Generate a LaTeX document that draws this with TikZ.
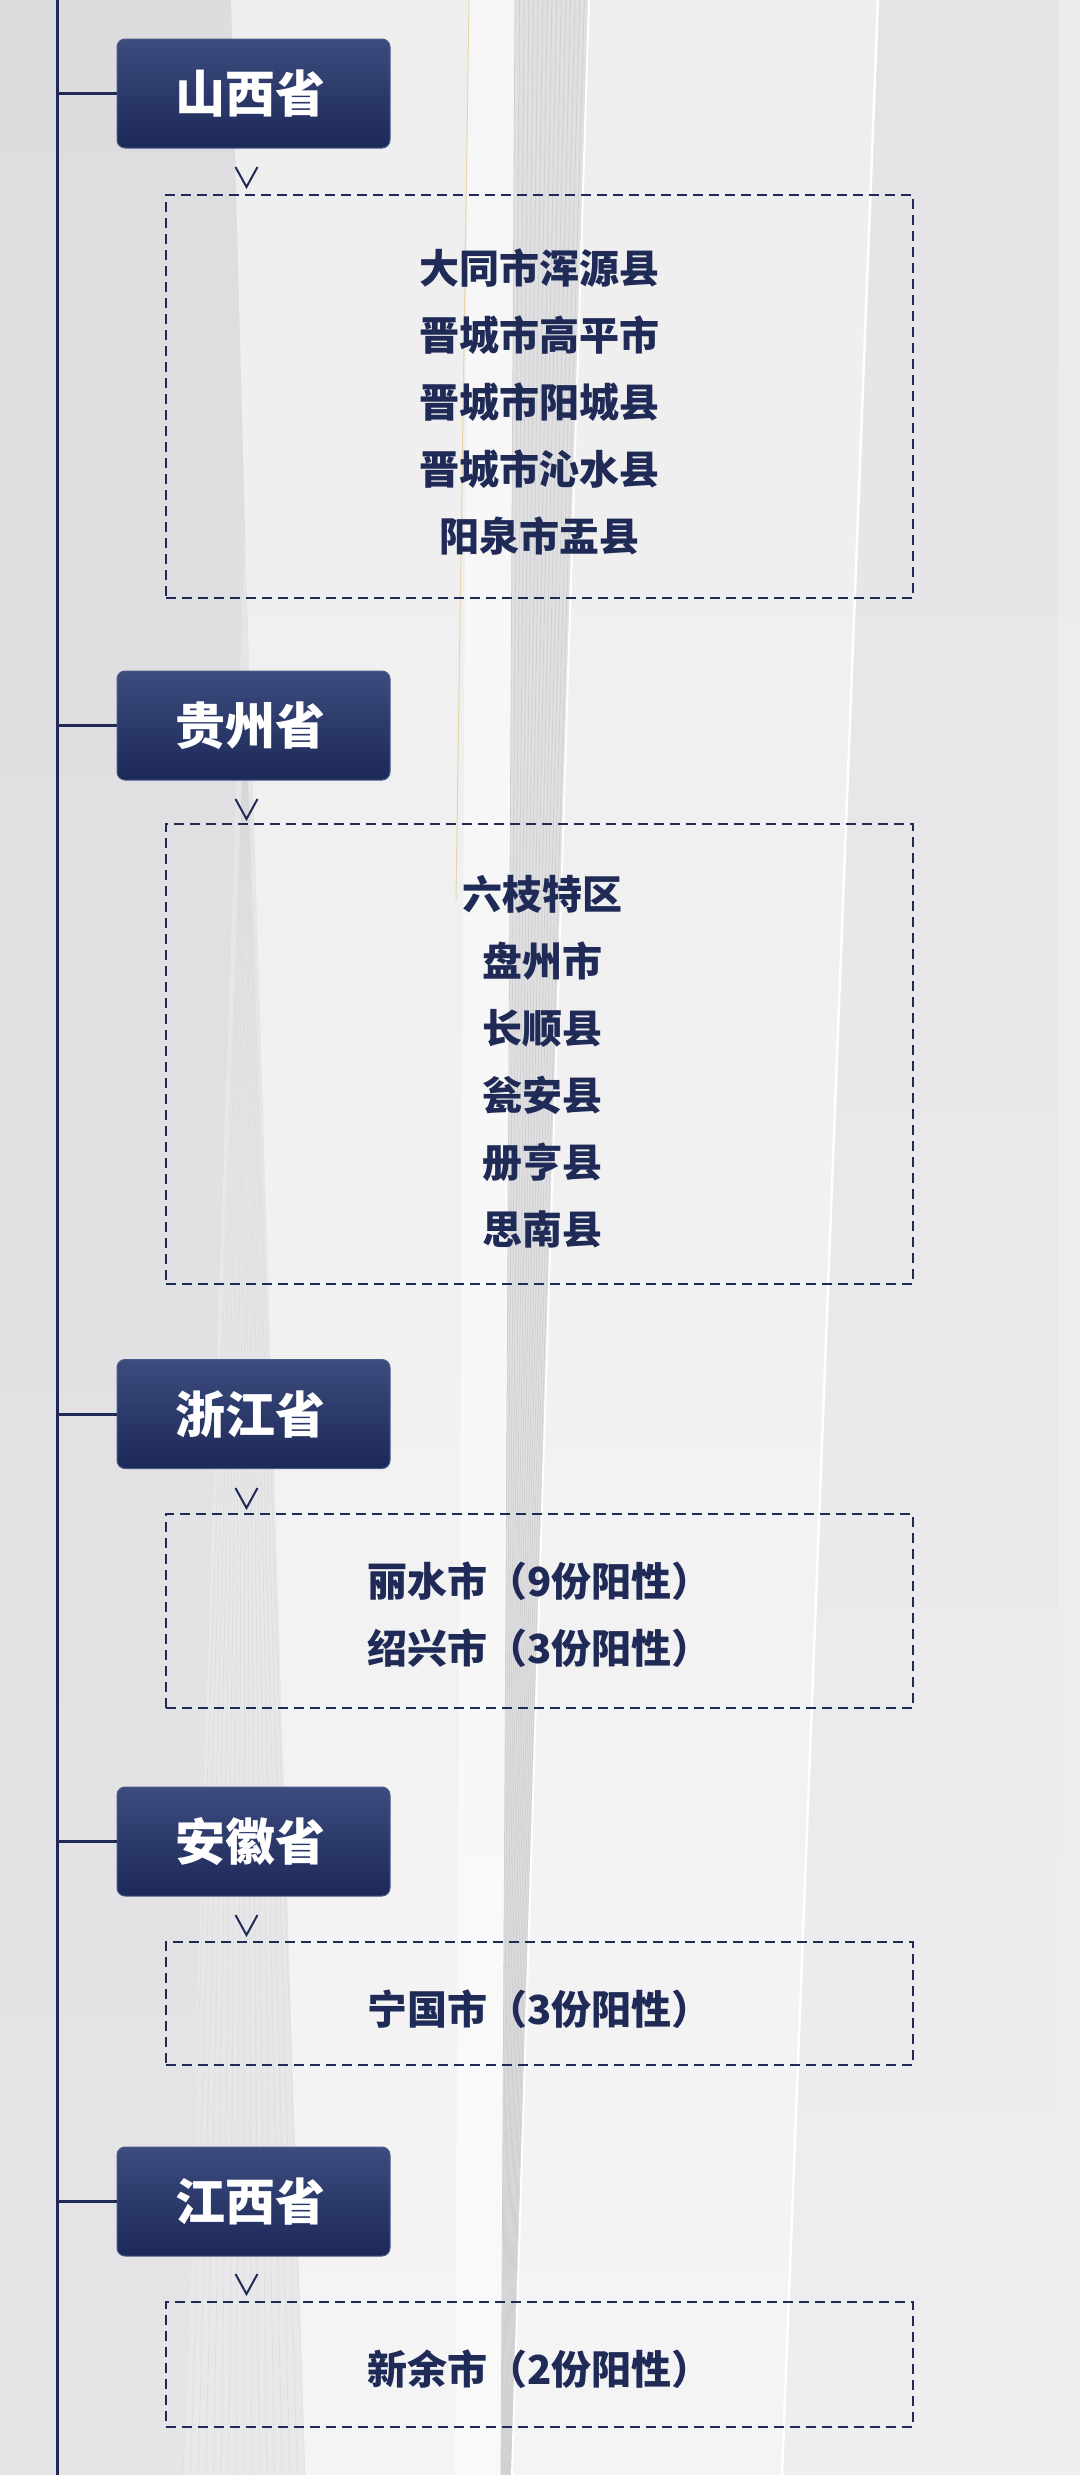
\documentclass[tikz,border=0pt]{standalone}
\usepackage{fontspec}
\newfontfamily\cjk{Noto Sans CJK SC}
\usetikzlibrary{calc}
\definecolor{navy}{HTML}{1F2A56}
\definecolor{hdrtop}{HTML}{3C4C7E}
\definecolor{hdrbot}{HTML}{1C2858}
\definecolor{hdredge}{HTML}{4A5A8A}
\definecolor{bgbase}{HTML}{ECECEE}
\definecolor{bgleft}{HTML}{DDDDDF}
\definecolor{bgleftlow}{HTML}{E5E5E7}
\definecolor{bgright}{HTML}{E4E4E6}
\definecolor{bgrightlow}{HTML}{EEEEF0}
\definecolor{bgcenter}{HTML}{EEEEEF}
\definecolor{bgcenterlow}{HTML}{F4F4F5}
\definecolor{stripefill}{HTML}{E0E0E2}
\definecolor{stripefillb}{HTML}{E8E8EA}
\definecolor{stripeline}{HTML}{D0D0D3}
\definecolor{gold}{HTML}{E6D7A6}
\begin{document}
\begin{tikzpicture}[x=0.5pt,y=-0.5pt,
  hdr/.style={rectangle, rounded corners=4pt, minimum width=136.5pt, minimum height=54.5pt,
    top color=hdrtop, bottom color=hdrbot, draw=hdredge, line width=0.5pt, text=white,
    font=\cjk\bfseries\fontsize{25pt}{28pt}\selectfont, inner sep=0pt},
  lst/.style={rectangle, draw=navy, line width=1pt, dash pattern=on 5pt off 3pt,
    minimum width=373.5pt, inner sep=0pt},
  lsttext/.style={inner sep=0pt, text=navy, align=center,
    font=\cjk\bfseries\fontsize{20pt}{33.5pt}\selectfont},
  spine/.style={draw=navy, line width=1.5pt},
  caret/.style={draw=navy, line width=1pt},
  stripe/.style={draw=stripeline, line width=0.4pt}]
\useasboundingbox (0,0) rectangle (1080,2475);
% ---------- background ----------
\fill[bgbase] (0,0) rectangle (1080,2475);
\shade[top color=bgcenter, bottom color=bgcenterlow] (231,0) -- (878,0) -- (782,2475) -- (183,2475) -- (245,530) -- cycle;
\shade[top color=bgleft, bottom color=bgleftlow] (0,0) -- (231,0) -- (245,530) -- (220,1280) -- (183,2475) -- (0,2475) -- cycle;
\shade[top color=bgright, bottom color=bgrightlow] (878,0) -- (1058,0) -- (1058,2475) -- (782,2475) -- cycle;
\shade[top color=bgbase, bottom color=bgrightlow] (1058,0) rectangle (1080,2475);
% white band and gold line
\fill[white, opacity=0.5] (468,0) -- (515,0) -- (503,2475) -- (455,2475) -- cycle;
\draw[gold, line width=0.5pt] (469,0) -- (456,900);
% central striped band
\fill[stripefill] (515,0) -- (589,0) -- (512,2475) -- (501,2475) -- cycle;
\foreach \i in {0,...,16} \draw[stripe] ({515+\i*74/16},0) -- ({501+\i*11/16},2475);
\draw[white, line width=1pt] (589,0) -- (512,2475);
% left striped band
\shade[top color=bgleftlow, bottom color=stripefillb] (245,530) -- (305,2475) -- (183,2475) -- cycle;
\foreach \i in {0,...,16} \draw[stripe, opacity=0.35] (245,700) -- ({183+\i*122/16},2475);
% right white line
\draw[white, line width=1.2pt] (878,0) -- (782,2475);
% ---------- spine ----------
\coordinate (top) at (57,0);
\coordinate (bot) at (57,2475);
\draw[spine] (top) -- (bot);
% ---------- headers ----------
\node[hdr] (h1) at (253.5,93.5) {山西省\hspace*{3pt}};
\node[hdr] (h2) at (253.5,725.5) {贵州省\hspace*{3pt}};
\node[hdr] (h3) at (253.5,1414) {浙江省\hspace*{3pt}};
\node[hdr] (h4) at (253.5,1841.5) {安徽省\hspace*{3pt}};
\node[hdr] (h5) at (253.5,2201.5) {江西省\hspace*{3pt}};
\foreach \k/\y in {1/93.5,2/725.5,3/1414,4/1841.5,5/2201.5}{
  \coordinate (s\k) at (57,\y);
  \draw[spine] (s\k) -- (h\k.west);
}
% ---------- carets ----------
\foreach \t in {167,799,1488,1915,2274}{
  \draw[caret] (235.5,\t) -- (246.5,\t+20) -- (257.5,\t);
}
% ---------- lists ----------
\node[lst, minimum height=201.5pt] (b1) at (539.5,396.5) {};
\node[lst, minimum height=230pt] (b2) at (539.5,1054) {};
\node[lst, minimum height=97pt] (b3) at (539.5,1611) {};
\node[lst, minimum height=61.5pt] (b4) at (539.5,2003.5) {};
\node[lst, minimum height=62.5pt] (b5) at (539.5,2364.5) {};
\node[lsttext] (t1) at ($(b1.center)+(0,6)$) {大同市浑源县\\晋城市高平市\\晋城市阳城县\\晋城市沁水县\\阳泉市盂县};
\node[lsttext] (t2) at ($(b2.center)+(3,8)$) {六枝特区\\盘州市\\长顺县\\瓮安县\\册亨县\\思南县};
\node[lsttext] (t3) at ($(b3.center)+(0,4)$) {丽水市（9份阳性）\\绍兴市（3份阳性）};
\node[lsttext] (t4) at ($(b4.center)+(0,6)$) {宁国市（3份阳性）};
\node[lsttext] (t5) at ($(b5.center)+(0,5)$) {新余市（2份阳性）};
\end{tikzpicture}
\end{document}
